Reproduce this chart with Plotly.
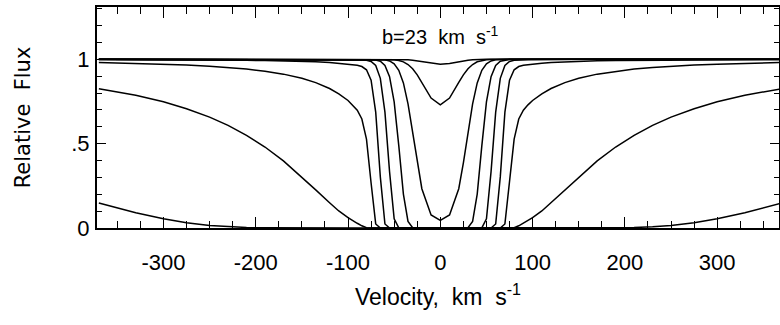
import plotly.graph_objects as go

# Velocity grid (km/s)
velocity = [-370, -330, -300, -275, -250, -230, -210, -190, -170, -150,
            -135, -120, -110, -100, -95, -90, -85, -80, -75, -70,
            -65, -60, -55, -50, -45, -40, -35, -30, -25, -20,
            -10, 0, 10,
            20, 25, 30, 35, 40, 45, 50, 55, 60, 65,
            70, 75, 80, 85, 90, 95, 100, 110, 120, 135,
            150, 170, 190, 210, 230, 250, 275, 300, 330, 370]

# Relative flux for profiles of increasing column density (b = 23 km/s)
flux_n12 = [1, 1, 1, 1, 1, 1, 1, 1, 1, 1,
            1, 1, 1, 1, 1, 1, 1, 1, 1, 1,
            1, 1, 1, 1, 0.999, 0.999, 0.997, 0.995, 0.991, 0.986,
            0.975, 0.970, 0.975,
            0.986, 0.991, 0.995, 0.997, 0.999, 0.999, 1, 1, 1, 1,
            1, 1, 1, 1, 1, 1, 1, 1, 1, 1,
            1, 1, 1, 1, 1, 1, 1, 1, 1, 1]
flux_n13 = [1, 1, 1, 1, 1, 1, 1, 1, 1, 1,
            1, 1, 1, 1, 1, 1, 1, 1, 1, 1,
            1, 1, 0.999, 0.997, 0.993, 0.985, 0.969, 0.944, 0.908, 0.863,
            0.770, 0.730, 0.770,
            0.863, 0.908, 0.944, 0.969, 0.985, 0.993, 0.997, 0.999, 1, 1,
            1, 1, 1, 1, 1, 1, 1, 1, 1, 1,
            1, 1, 1, 1, 1, 1, 1, 1, 1, 1]
flux_n14 = [1, 1, 1, 1, 1, 1, 1, 1, 1, 1,
            1, 1, 1, 1, 1, 1, 1, 1, 1, 1,
            0.999, 0.997, 0.990, 0.973, 0.935, 0.860, 0.736, 0.568, 0.386, 0.233,
            0.077, 0.045, 0.077,
            0.233, 0.386, 0.568, 0.736, 0.860, 0.935, 0.973, 0.990, 0.997, 0.999,
            1, 1, 1, 1, 1, 1, 1, 1, 1, 1,
            1, 1, 1, 1, 1, 1, 1, 1, 1, 1]
flux_n15 = [1, 1, 1, 1, 1, 1, 1, 1, 1, 1,
            1, 1, 1, 1, 1, 1, 1, 0.999, 0.999, 0.996,
            0.989, 0.964, 0.897, 0.747, 0.488, 0.201, 0.039, 0.002, 0, 0,
            0, 0, 0,
            0, 0, 0.002, 0.039, 0.201, 0.488, 0.747, 0.897, 0.964, 0.989,
            0.996, 0.999, 0.999, 1, 1, 1, 1, 1, 1, 1,
            1, 1, 1, 1, 1, 1, 1, 1, 1, 1]
flux_n16 = [1, 1, 1, 1, 1, 1, 1, 1, 1, 0.999,
            0.999, 0.998, 0.998, 0.997, 0.997, 0.997, 0.996, 0.994, 0.987, 0.963,
            0.887, 0.687, 0.334, 0.054, 0.001, 0, 0, 0, 0, 0,
            0, 0, 0,
            0, 0, 0, 0, 0, 0.001, 0.054, 0.334, 0.687, 0.887,
            0.963, 0.987, 0.994, 0.996, 0.997, 0.997, 0.997, 0.998, 0.998, 0.999,
            0.999, 1, 1, 1, 1, 1, 1, 1, 1, 1]
flux_n17 = [0.998, 0.998, 0.997, 0.997, 0.996, 0.995, 0.994, 0.993, 0.991, 0.988,
            0.985, 0.981, 0.977, 0.972, 0.969, 0.965, 0.957, 0.938, 0.876, 0.687,
            0.303, 0.024, 0, 0, 0, 0, 0, 0, 0, 0,
            0, 0, 0,
            0, 0, 0, 0, 0, 0, 0, 0, 0.024, 0.303,
            0.687, 0.876, 0.938, 0.957, 0.965, 0.969, 0.972, 0.977, 0.981, 0.985,
            0.988, 0.991, 0.993, 0.994, 0.995, 0.996, 0.997, 0.997, 0.998, 0.998]
flux_n18 = [0.981, 0.976, 0.971, 0.966, 0.959, 0.951, 0.942, 0.929, 0.912, 0.888,
            0.862, 0.827, 0.795, 0.756, 0.730, 0.698, 0.646, 0.527, 0.267, 0.024,
            0, 0, 0, 0, 0, 0, 0, 0, 0, 0,
            0, 0, 0,
            0, 0, 0, 0, 0, 0, 0, 0, 0, 0,
            0.024, 0.267, 0.527, 0.646, 0.698, 0.730, 0.756, 0.795, 0.827, 0.862,
            0.888, 0.912, 0.929, 0.942, 0.951, 0.959, 0.966, 0.971, 0.976, 0.981]
flux_n19 = [0.826, 0.787, 0.748, 0.707, 0.657, 0.608, 0.549, 0.480, 0.398, 0.303,
            0.226, 0.150, 0.101, 0.061, 0.043, 0.028, 0.013, 0.002, 0, 0,
            0, 0, 0, 0, 0, 0, 0, 0, 0, 0,
            0, 0, 0,
            0, 0, 0, 0, 0, 0, 0, 0, 0, 0,
            0, 0, 0.002, 0.013, 0.028, 0.043, 0.061, 0.101, 0.150, 0.226,
            0.303, 0.398, 0.480, 0.549, 0.608, 0.657, 0.707, 0.748, 0.787, 0.826]
flux_n20 = [0.148, 0.091, 0.055, 0.031, 0.015, 0.007, 0.003, 0.001, 0, 0,
            0, 0, 0, 0, 0, 0, 0, 0, 0, 0,
            0, 0, 0, 0, 0, 0, 0, 0, 0, 0,
            0, 0, 0,
            0, 0, 0, 0, 0, 0, 0, 0, 0, 0,
            0, 0, 0, 0, 0, 0, 0, 0, 0, 0,
            0, 0, 0.001, 0.003, 0.007, 0.015, 0.031, 0.055, 0.091, 0.148]

profiles = [flux_n12, flux_n13, flux_n14, flux_n15, flux_n16,
            flux_n17, flux_n18, flux_n19, flux_n20]

x_tick_vals = [-300, -200, -100, 0, 100, 200, 300]
x_tick_text = ["-300", "-200", "-100", "0", "100", "200", "300"]
y_tick_vals = [0, 0.5, 1]
y_tick_text = ["0", ".5", "1"]

label_text = "b=23  km  s<sup>-1</sup>"
x_title = "Velocity,  km  s<sup>-1</sup>"
y_title = "Relative  Flux"

FONT = "Liberation Sans, Arial, sans-serif"

fig = go.Figure()
for f in profiles:
    fig.add_trace(go.Scatter(x=velocity, y=f, mode="lines",
                             line=dict(color="black", width=1.5),
                             showlegend=False, hoverinfo="skip"))

fig.add_annotation(x=0, y=1.14, xref="x", yref="y", text=label_text,
                   showarrow=False, font=dict(family=FONT, size=20, color="black"))

fig.update_layout(
    width=780, height=325,
    margin=dict(l=97, r=1, t=7, b=97),
    paper_bgcolor="white", plot_bgcolor="white",
    font=dict(family=FONT, color="black"),
)
fig.update_xaxes(
    range=[-372, 367], tickmode="array", tickvals=x_tick_vals, ticktext=x_tick_text,
    ticks="inside", ticklen=11, tickwidth=1, tickcolor="black",
    showline=True, linewidth=2, linecolor="black", mirror="ticks",
    showgrid=False, zeroline=False, automargin=False,
    minor=dict(ticks="inside", ticklen=7, tickmode="linear", tick0=0, dtick=25,
               tickcolor="black", tickwidth=1, showgrid=False),
    tickfont=dict(family=FONT, size=22, color="black"),
    ticklabelstandoff=14,
    title=dict(text=x_title, font=dict(family=FONT, size=23, color="black"), standoff=14),
)
fig.update_yaxes(
    range=[0, 1.31], tickmode="array", tickvals=y_tick_vals, ticktext=y_tick_text,
    ticks="inside", ticklen=9, tickwidth=1, tickcolor="black",
    showline=True, linewidth=2, linecolor="black", mirror="ticks",
    showgrid=False, zeroline=False, automargin=False,
    minor=dict(ticks="inside", ticklen=5, tickmode="linear", tick0=0, dtick=0.1,
               tickcolor="black", tickwidth=1, showgrid=False),
    tickfont=dict(family=FONT, size=22, color="black"),
    ticklabelstandoff=1,
    title=dict(text=y_title, font=dict(family="DejaVu Sans, sans-serif", size=21, color="black"), standoff=35),
)

fig.write_html("out.html", config={"displayModeBar": False},
               post_script="document.body.style.margin='0';")
